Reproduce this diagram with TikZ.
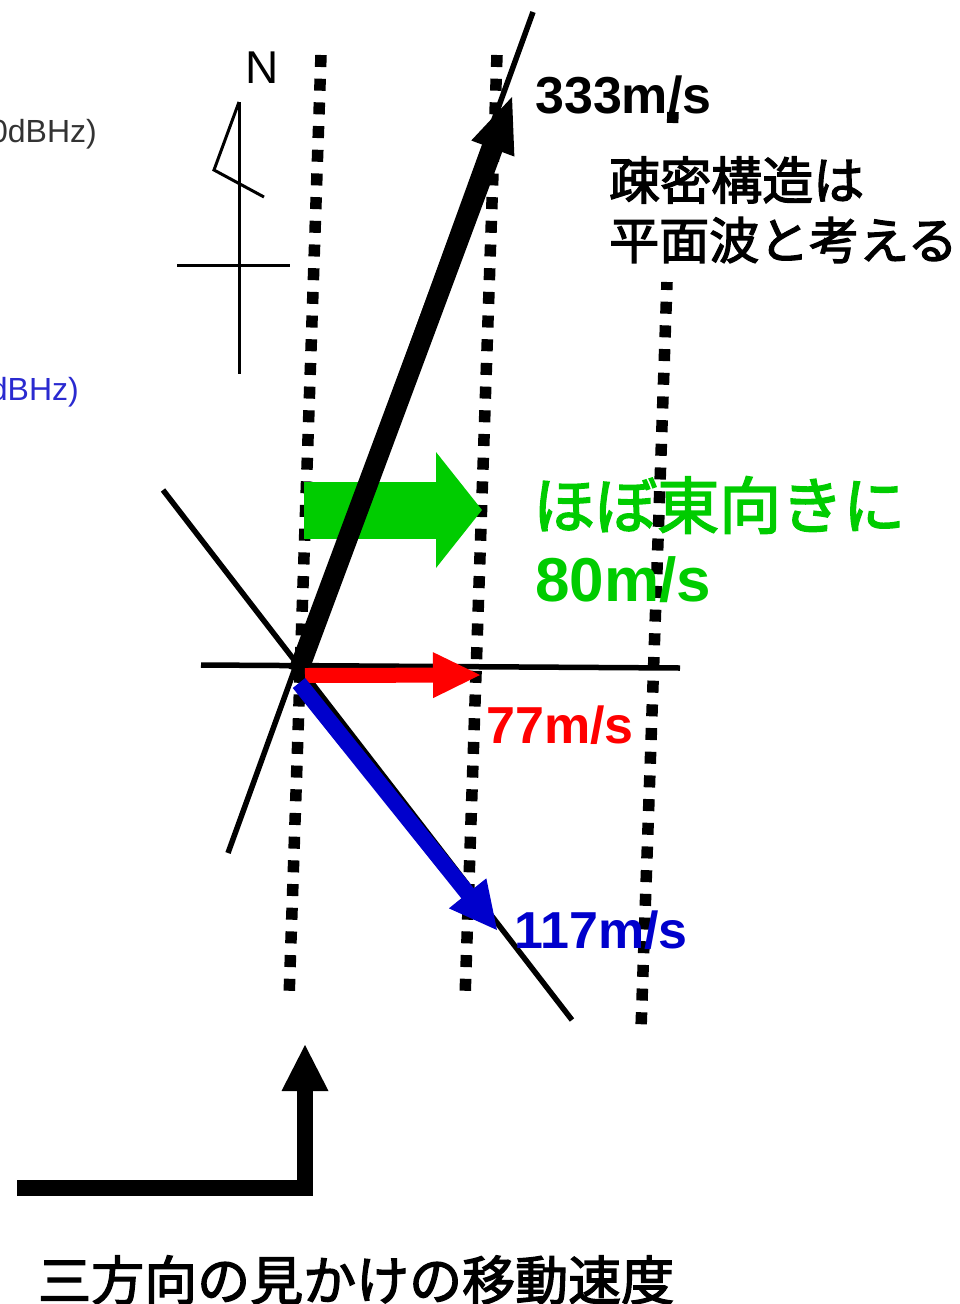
\documentclass[tikz,border=0pt]{standalone}
\usepackage{fontspec}
\setmainfont{Liberation Sans}
\newfontfamily\cjk[FakeBold=2.5]{Noto Sans CJK JP}
\usetikzlibrary{calc}
\definecolor{ggreen}{HTML}{00CC00}
\definecolor{rred}{HTML}{FF0000}
\definecolor{bblue}{HTML}{0000CC}
\definecolor{gtext}{HTML}{333333}
\definecolor{btext}{HTML}{2A2AD0}
\newcommand\fatarrow[7]{%
  \coordinate (#1HeadBase) at ($(#4)!#6!(#3)$);
  \coordinate (#1ShaftEnd) at ($(#4)!#6-2pt!(#3)$);
  \draw[#2, line width=#5] (#3) -- (#1ShaftEnd);
  \fill[#2] (#4) -- ($(#1HeadBase)!#7!90:(#4)$) -- ($(#1HeadBase)!#7!-90:(#4)$) -- cycle;
}
\tikzset{
  dotline/.style={line width=11.5pt, dash pattern=on 12pt off 11.7pt},
  thinline/.style={line width=5.5pt},
  compass/.style={line width=3pt},
  lbl/.style={inner sep=0pt, anchor=west},
}
\begin{document}
\begin{tikzpicture}[x=1pt,y=-1pt]
\useasboundingbox (0,0) rectangle (960,1304);
\clip (0,0) rectangle (960,1304);
% partial legend texts
\node[lbl, anchor=east, text=gtext, font=\fontsize{32}{32}\selectfont] (leg1) at (97,134) {0dBHz)};
\node[lbl, anchor=east, text=btext, font=\fontsize{32}{32}\selectfont] (leg2) at (79,392) {dBHz)};
% compass
\node[lbl, font=\fontsize{46}{46}\selectfont] (N) at (245,68) {N};
\coordinate (c1) at (239,102);
\coordinate (c2) at (239,374);
\coordinate (c3) at (177,265);
\coordinate (c4) at (290,265);
\coordinate (z1) at (214,170);
\coordinate (z2) at (264,197);
\draw[compass] (c1) -- (c2);
\draw[compass] (c3) -- (c4);
\draw[compass, line join=miter] (c1) -- (z1) -- (z2);
% dotted lines
\coordinate (d1a) at (321,55);  \coordinate (d1b) at (289,999);
\coordinate (d2a) at (497,55);  \coordinate (d2b) at (465,998);
\coordinate (d3a) at (667,282); \coordinate (d3b) at (641,1029);
\coordinate (d3x) at (673,112); \coordinate (d3y) at (672.6,123);
\draw[dotline] (d1a) -- (d1b);
\draw[dotline] (d2a) -- (d2b);
\draw[dotline, dash phase=4pt] (d3a) -- (d3b);
\draw[line width=11.5pt] (d3x) -- (d3y);
% thin lines
\coordinate (l1a) at (533,12);  \coordinate (l1b) at (228,853);
\coordinate (l2a) at (163,490); \coordinate (l2b) at (572,1020);
\coordinate (h1) at (201,665);  \coordinate (h2) at (680,668);
\draw[thinline] (l1a) -- (l1b);
\draw[thinline] (l2a) -- (l2b);
\draw[thinline] (h1) -- (h2);
% green arrow
\coordinate (gStart) at (304,510); \coordinate (gTip) at (482,510);
\fatarrow{g}{ggreen}{gStart}{gTip}{57pt}{46pt}{58pt}
% black arrow
\coordinate (kStart) at (298,672); \coordinate (kTip) at (512,97);
\fatarrow{k}{black}{kStart}{kTip}{20pt}{55pt}{23pt}
% red arrow
\coordinate (rStart) at (305,675.5); \coordinate (rTip) at (480,675);
\fatarrow{r}{rred}{rStart}{rTip}{15pt}{47pt}{23pt}
% blue arrow
\coordinate (bStart) at (299,683); \coordinate (bTip) at (497,930);
\fatarrow{b}{bblue}{bStart}{bTip}{16pt}{47pt}{24pt}
% bottom L arrow
\coordinate (ll) at (17,1188); \coordinate (lc) at (305,1188);
\coordinate (ltb) at (305,1088); \coordinate (ltt) at (305,1045);
\draw[line width=16pt, line join=miter] (ll) -- (lc) -- (ltb);
\fill (ltt) -- (281.5,1091) -- (328.5,1091) -- cycle;
% labels
\node[lbl, font=\bfseries\fontsize{52}{52}\selectfont] (v333) at (535,95) {333m/s};
\node[lbl, font=\cjk\fontsize{51}{51}\selectfont] (jp1) at (609,180) {疎密構造は};
\node[lbl, font=\cjk\fontsize{50}{50}\selectfont] (jp2) at (609,240) {平面波と考える};
\node[lbl, text=ggreen, font=\cjk\fontsize{62}{62}\selectfont] (east) at (533,505) {ほぼ東向きに};
\node[lbl, text=ggreen, font=\bfseries\fontsize{62}{62}\selectfont] (v80) at (535,580) {80m/s};
\node[lbl, text=rred, font=\bfseries\fontsize{52}{52}\selectfont] (v77) at (486,725) {77m/s};
\node[lbl, text=bblue, font=\bfseries\fontsize{52}{52}\selectfont] (v117) at (514,930) {117m/s};
\node[lbl, font=\cjk\fontsize{53}{53}\selectfont] (title) at (38,1280) {三方向の見かけの移動速度};
\end{tikzpicture}
\end{document}
